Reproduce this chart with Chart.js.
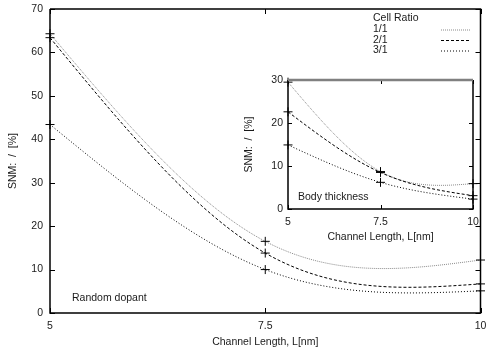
<!DOCTYPE html>
<html lang="en">
<head>
  <meta charset="UTF-8" />
  <title>SNM vs Channel Length</title>
  <script src="https://cdn.jsdelivr.net/npm/chart.js"></script>
  <style>
    html, body { margin: 0; padding: 0; background: #fff; }
    .wrap { position: relative; width: 486px; height: 349px; overflow: hidden; }
    #mainChart { position: absolute; left: 0; top: 0; }
    #insetChart { position: absolute; left: 240px; top: 70px; }
  </style>
</head>
<body>
  <div class="wrap">
    <canvas id="mainChart" width="486" height="349"></canvas>
    <canvas id="insetChart" width="246" height="180"></canvas>
  </div>

  <script>
    // channel length (nm) and tick labels
    const lengths = [5, 7.5, 10];
    const xTicks = [5, 7.5, 10];

    // random dopant (main plot), SNM sigma/mu [%]
    const rdRatio11 = [64.3, 16.5, 12.2];
    const rdRatio21 = [63.4, 13.8, 6.7];
    const rdRatio31 = [43.4, 10.0, 5.1];

    // body thickness (inset)
    const btRatio11 = [29.5, 8.7, 5.9];
    const btRatio21 = [22.6, 8.5, 3.1];
    const btRatio31 = [14.9, 6.2, 2.3];

    const ratioLabels = ["1/1", "2/1", "3/1"];

    const txtColor = '#1a1a1a';
    const font = { family: '"Liberation Sans", Arial, sans-serif', size: 10.5 };
    const fontCss = '10.5px "Liberation Sans", Arial, sans-serif';

    // line styles per cell ratio
    const styles = [
      { borderColor: '#8a8a8a', borderDash: [1, 1] },
      { borderColor: '#000', borderDash: [3, 2] },
      { borderColor: '#000', borderDash: [1, 2] },
    ];

    function makeSet(label, values, i) {
      return {
        label: label,
        data: lengths.map((x, k) => ({ x: x, y: values[k] })),
        borderColor: styles[i].borderColor,
        borderDash: styles[i].borderDash,
        borderWidth: 1,
        showLine: false, // curve is drawn by the csplines plugin below
        pointStyle: 'cross',
        pointRadius: 4.5,
        pointBorderColor: '#000',
        pointBorderWidth: 1,
        pointBackgroundColor: '#000',
        fill: false,
        clip: false,
      };
    }

    // natural cubic spline through the plotted points (like gnuplot "smooth csplines"),
    // each piece drawn as an exact bezier in pixel space
    const csplines = {
      id: 'csplines',
      beforeDatasetsDraw(chart) {
        const { ctx, chartArea: a } = chart;
        ctx.save();
        ctx.beginPath();
        ctx.rect(a.left, a.top, a.right - a.left, a.bottom - a.top);
        ctx.clip();
        chart.data.datasets.forEach((ds, di) => {
          const pts = chart.getDatasetMeta(di).data.map(p => ({ x: p.x, y: p.y }));
          const n = pts.length;
          if (n < 2) return;
          const h = [], M = new Array(n).fill(0);
          for (let i = 0; i < n - 1; i++) h.push(pts[i + 1].x - pts[i].x);
          // tridiagonal solve for inner second derivatives
          if (n > 2) {
            const m = n - 2, a1 = [], b1 = [], c1 = [], d1 = [];
            for (let i = 1; i < n - 1; i++) {
              a1.push(h[i - 1]); b1.push(2 * (h[i - 1] + h[i])); c1.push(h[i]);
              d1.push(6 * ((pts[i + 1].y - pts[i].y) / h[i] - (pts[i].y - pts[i - 1].y) / h[i - 1]));
            }
            for (let i = 1; i < m; i++) {
              const w = a1[i] / b1[i - 1];
              b1[i] -= w * c1[i - 1]; d1[i] -= w * d1[i - 1];
            }
            const sol = new Array(m);
            sol[m - 1] = d1[m - 1] / b1[m - 1];
            for (let i = m - 2; i >= 0; i--) sol[i] = (d1[i] - c1[i] * sol[i + 1]) / b1[i];
            for (let i = 0; i < m; i++) M[i + 1] = sol[i];
          }
          ctx.strokeStyle = ds.borderColor;
          ctx.lineWidth = ds.borderWidth;
          ctx.setLineDash(ds.borderDash);
          ctx.beginPath();
          ctx.moveTo(pts[0].x, pts[0].y);
          for (let i = 0; i < n - 1; i++) {
            const p0 = pts[i], p1 = pts[i + 1], hh = h[i];
            const sec = (p1.y - p0.y) / hh;
            const s0 = sec - hh * (2 * M[i] + M[i + 1]) / 6;
            const s1 = sec + hh * (M[i] + 2 * M[i + 1]) / 6;
            ctx.bezierCurveTo(p0.x + hh / 3, p0.y + s0 * hh / 3, p1.x - hh / 3, p1.y - s1 * hh / 3, p1.x, p1.y);
          }
          ctx.stroke();
        });
        ctx.restore();
      }
    };

    // gnuplot-like frame with inward ticks on all sides
    const frameTicks = {
      id: 'frameTicks',
      afterDatasetsDraw(chart, args, opts) {
        const { ctx, chartArea: a, scales: { x, y } } = chart;
        const len = opts.tick || 5;
        ctx.save();
        ctx.strokeStyle = '#000';
        ctx.lineWidth = 1;
        ctx.beginPath();
        x.ticks.forEach(t => {
          const px = Math.round(x.getPixelForValue(t.value)) + 0.5;
          ctx.moveTo(px, a.bottom); ctx.lineTo(px, a.bottom - len);
          ctx.moveTo(px, a.top); ctx.lineTo(px, a.top + len);
        });
        y.ticks.forEach(t => {
          const py = Math.round(y.getPixelForValue(t.value)) + 0.5;
          ctx.moveTo(a.left, py); ctx.lineTo(a.left + len, py);
          ctx.moveTo(a.right, py); ctx.lineTo(a.right - len, py);
        });
        ctx.stroke();

        ctx.lineWidth = 1.5;
        ctx.beginPath();
        ctx.moveTo(a.left, a.top);
        ctx.lineTo(a.left, a.bottom);
        ctx.lineTo(a.right, a.bottom);
        ctx.lineTo(a.right, a.top);
        if (!opts.greyTop) ctx.lineTo(a.left, a.top);
        ctx.stroke();
        if (opts.greyTop) {
          ctx.strokeStyle = '#808080';
          ctx.lineWidth = 2.5;
          ctx.beginPath();
          ctx.moveTo(a.left, a.top);
          ctx.lineTo(a.right, a.top);
          ctx.stroke();
        }

        if (opts.note) {
          ctx.fillStyle = txtColor;
          ctx.font = fontCss;
          ctx.textBaseline = 'middle';
          ctx.fillText(opts.note, a.left + opts.noteDx, a.bottom - opts.noteDy);
        }
        ctx.restore();
      }
    };

    // key in the top right corner: text left, line sample right
    const keyBox = {
      id: 'keyBox',
      afterDraw(chart, args, opts) {
        if (!opts.show) return;
        const ctx = chart.ctx;
        ctx.save();
        ctx.font = fontCss;
        ctx.fillStyle = txtColor;
        ctx.textBaseline = 'middle';
        ctx.fillText('Cell Ratio', 373, 18);
        chart.data.datasets.forEach((ds, i) => {
          const yy = 29.5 + i * 10.5;
          ctx.fillText(ds.label, 373, yy);
          ctx.strokeStyle = ds.borderColor;
          ctx.lineWidth = 1;
          ctx.setLineDash(ds.borderDash);
          ctx.beginPath();
          ctx.moveTo(441, yy + 0.5);
          ctx.lineTo(470, yy + 0.5);
          ctx.stroke();
        });
        ctx.restore();
      }
    };

    function axes(yMax, yW, xH, yPad, xPad, yTitlePad, xTitlePad) {
      return {
        x: {
          type: 'linear', min: 5, max: 10,
          afterBuildTicks: s => { s.ticks = xTicks.map(v => ({ value: v })); },
          ticks: { padding: xPad, color: txtColor, font: font, maxRotation: 0, autoSkip: false, callback: v => String(v) },
          grid: { display: false, drawTicks: false },
          border: { display: false },
          title: { display: true, text: 'Channel Length, L[nm]', color: txtColor, font: font, padding: { top: 0, bottom: xTitlePad } },
          afterFit: s => { s.height = xH; s.paddingLeft = 0; s.paddingRight = 0; },
        },
        y: {
          min: 0, max: yMax,
          ticks: { stepSize: 10, padding: yPad, color: txtColor, font: font },
          grid: { display: false, drawTicks: false },
          border: { display: false },
          title: { display: true, text: 'SNM:  /  [%]', color: txtColor, font: font, padding: { top: yTitlePad, bottom: 0 } },
          afterFit: s => { s.width = yW; s.paddingTop = 0; s.paddingBottom = 0; },
        },
      };
    }

    // main plot: random dopant
    new Chart(document.getElementById('mainChart'), {
      type: 'line',
      data: {
        datasets: [
          makeSet(ratioLabels[0], rdRatio11, 0),
          makeSet(ratioLabels[1], rdRatio21, 1),
          makeSet(ratioLabels[2], rdRatio31, 2),
        ],
      },
      options: {
        responsive: false,
        animation: false,
        layout: { padding: { top: 9, right: 2.5, left: 0, bottom: 0 } },
        plugins: {
          legend: { display: false },
          tooltip: { enabled: false },
          frameTicks: { tick: 5, note: 'Random dopant', noteDx: 22, noteDy: 15 },
          keyBox: { show: true },
        },
        scales: axes(70, 50, 36, 7, 7, 7, 1),
      },
      plugins: [csplines, frameTicks, keyBox],
    });

    // inset: body thickness
    new Chart(document.getElementById('insetChart'), {
      type: 'line',
      data: {
        datasets: [
          makeSet(ratioLabels[0], btRatio11, 0),
          makeSet(ratioLabels[1], btRatio21, 1),
          makeSet(ratioLabels[2], btRatio31, 2),
        ],
      },
      options: {
        responsive: false,
        animation: false,
        layout: { padding: { top: 10, right: 13, left: 0, bottom: 0 } },
        plugins: {
          legend: { display: false },
          tooltip: { enabled: false },
          frameTicks: { tick: 4, greyTop: true, note: 'Body thickness', noteDx: 10, noteDy: 12 },
          keyBox: { show: false },
        },
        scales: axes(30, 48, 41, 5, 7, 3, 7),
      },
      plugins: [csplines, frameTicks, keyBox],
    });
  </script>
</body>
</html>
